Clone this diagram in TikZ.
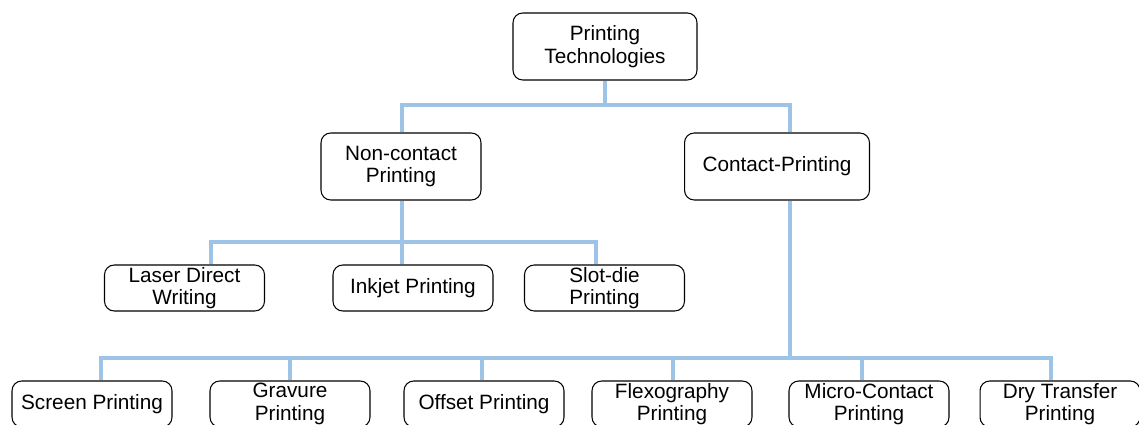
\documentclass[tikz,border=0pt]{standalone}
\usepackage{fontspec}
\setmainfont{Liberation Sans}
\usetikzlibrary{calc}

\definecolor{linkblue}{RGB}{157,195,230}

\begin{document}
\begin{tikzpicture}[x=0.02cm, y=-0.02cm,
    box/.style={draw, rounded corners=5.5pt, line width=0.6pt, align=center,
        inner sep=0pt, font=\fontsize{11.8}{12.8}\selectfont},
    headbox/.style={box, minimum width=3.7cm, minimum height=1.34cm},
    leafbox/.style={box, minimum width=3.2cm, minimum height=0.92cm},
    link/.style={draw=linkblue, line width=1.9pt}]

\useasboundingbox (0,0) rectangle (1139,425);
\clip (0,0) rectangle (1139,425);

% Root
\node[headbox, minimum width=3.68cm] (root) at (605,46.5) {Printing\\Technologies};

% Second level
\node[headbox, minimum width=3.2cm] (noncontact) at (401,166.5) {Non-contact\\Printing};
\node[headbox] (contact) at (777,166.5) {Contact-Printing};

% Non-contact methods
\node[leafbox] (laser) at (184.5,288) {Laser Direct\\Writing};
\node[leafbox] (inkjet) at (413,288) {Inkjet Printing};
\node[leafbox] (slotdie) at (604.5,288) {Slot-die\\Printing};

% Contact methods
\node[leafbox] (screen) at (92,404) {Screen Printing};
\node[leafbox] (gravure) at (290,404) {Gravure\\Printing};
\node[leafbox] (offset) at (484,404) {Offset Printing};
\node[leafbox] (flexo) at (672,404) {Flexography\\Printing};
\node[leafbox] (micro) at (869,404) {Micro-Contact\\Printing};
\node[leafbox] (dry) at (1060,404) {Dry Transfer\\Printing};

% Top bus
\coordinate (tm) at (605,105);
\coordinate (tl) at (402,105);
\coordinate (tr) at (790,105);
\draw[link] (root.south) -- (tm);
\draw[link] (noncontact.north -| tl) -- (tl) -- (tr) -- (contact.north -| tr);

% Middle bus
\coordinate (ml) at (211,242);
\coordinate (mm) at (402,242);
\coordinate (mr) at (596,242);
\draw[link] (laser.north -| ml) -- (ml) -- (mr) -- (slotdie.north -| mr);
\draw[link] (noncontact.south -| mm) -- (inkjet.north -| mm);

% Bottom bus
\coordinate (bc) at (790,358);
\coordinate (b1) at (101,358);
\coordinate (b6) at (1051,358);
\draw[link] (contact.south -| bc) -- (bc);
\draw[link] (screen.north -| b1) -- (b1) -- (b6) -- (dry.north -| b6);
\foreach \n/\xx in {gravure/290, offset/482, flexo/673, micro/862}
    \draw[link] (\xx,358) -- (\n.north -| \xx,0);

\end{tikzpicture}
\end{document}
